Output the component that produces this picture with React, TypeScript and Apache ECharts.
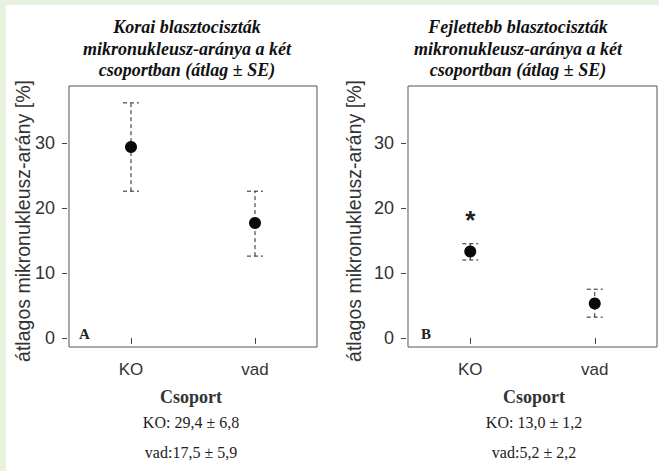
import React, { useEffect, useRef } from "react";
import * as echarts from "echarts";

const categories = ["KO", "vad"];
const meanA = [29.4, 17.7];
const lowA = [22.6, 12.6];
const highA = [36.2, 22.6];
const meanB = [13.3, 5.3];
const lowB = [12.0, 3.2];
const highB = [14.5, 7.5];
const starB = [[0, 18.8]];
const yTicks = [0, 10, 20, 30];
const yMin = -1.4;
const yMax = 38.8;
const titleA = ["Korai blasztociszták", "mikronukleusz-aránya a két", "csoportban (átlag ± SE)"];
const titleB = ["Fejlettebb blasztociszták", "mikronukleusz-aránya a két", "csoportban (átlag ± SE)"];
const summaryA = ["KO: 29,4 ± 6,8", "vad:17,5 ± 5,9"];
const summaryB = ["KO: 13,0 ± 1,2", "vad:5,2 ± 2,2"];
const panelLetters = ["A", "B"];
const yTitle = "átlagos mikronukleusz-arány [%]";
const xTitle = "Csoport";

const SANS = "Liberation Sans";
const SERIF = "Liberation Serif";

function errorRender(params: any, api: any) {
  const x = api.value(0);
  const lo = api.coord([x, api.value(1)]);
  const hi = api.coord([x, api.value(2)]);
  const hw = 8;
  const style = { stroke: "#222", lineWidth: 1, lineDash: [4, 3], fill: "none" };
  return {
    type: "group",
    children: [
      { type: "line", shape: { x1: lo[0], y1: lo[1], x2: hi[0], y2: hi[1] }, style },
      { type: "line", shape: { x1: lo[0] - hw, y1: lo[1], x2: lo[0] + hw, y2: lo[1] }, style },
      { type: "line", shape: { x1: hi[0] - hw, y1: hi[1], x2: hi[0] + hw, y2: hi[1] }, style },
    ],
  };
}

function starRender(params: any, api: any) {
  const p = api.coord([api.value(0), api.value(1)]);
  return {
    type: "text",
    x: p[0],
    y: p[1] + 4,
    style: {
      text: "*",
      fontSize: 26,
      fontWeight: "bold",
      fontFamily: SANS,
      fill: "#222",
      align: "center",
      verticalAlign: "middle",
    },
  };
}

export default function App() {
  const ref = useRef<HTMLDivElement>(null);
  useEffect(() => {
    document.body.style.margin = "0";
    const chart = echarts.init(ref.current!, undefined, { renderer: "svg" });
    const grids = [
      { left: 69, top: 86, width: 248, height: 261 },
      { left: 408, top: 86, width: 249, height: 261 },
    ];
    const xAxes = grids.map((_, i) => ({
      type: "category",
      gridIndex: i,
      data: categories,
      boundaryGap: true,
      axisLine: { show: false },
      axisTick: { show: true, alignWithLabel: true, length: 6, lineStyle: { color: "#444" } },
      axisLabel: { fontSize: 17, fontFamily: SANS, color: "#333", margin: 14 },
      splitLine: { show: false },
    }));
    const yAxes = grids.map((_, i) => ({
      type: "value",
      gridIndex: i,
      min: yMin,
      max: yMax,
      offset: 2,
      axisLine: { show: false },
      axisTick: { show: true, length: 5, customValues: yTicks, lineStyle: { color: "#444" } },
      axisLabel: { fontSize: 18, fontFamily: SANS, color: "#333", margin: 12, customValues: yTicks },
      splitLine: { show: false },
    }));
    const green = "#e6f1de";
    const textEls: any[] = [
      { type: "rect", shape: { x: 0, y: 0, width: 659, height: 5 }, style: { fill: green }, silent: true },
      { type: "rect", shape: { x: 0, y: 0, width: 6, height: 471 }, style: { fill: green }, silent: true },
    ];
    const titleCenters = [187, 518];
    const boxCenters = [191, 534];
    const yTitleX = [23, 354];
    const letterX = [79, 421];
    [titleA, titleB].forEach((lines, p) => {
      lines.forEach((t, k) => {
        textEls.push({
          type: "text",
          x: titleCenters[p],
          y: 27 + k * 21.5,
          style: { text: t, fontSize: 18, fontStyle: "italic", fontWeight: "bold", fontFamily: SERIF, fill: "#111", align: "center", verticalAlign: "middle" },
        });
      });
      textEls.push({
        type: "text",
        x: boxCenters[p],
        y: 397,
        style: { text: xTitle, fontSize: 18, fontWeight: "bold", fontFamily: SERIF, fill: "#333", align: "center", verticalAlign: "middle" },
      });
      const summ = p === 0 ? summaryA : summaryB;
      summ.forEach((t, k) => {
        textEls.push({
          type: "text",
          x: boxCenters[p],
          y: 422 + k * 30,
          style: { text: t, fontSize: 16, fontFamily: SERIF, fill: "#222", align: "center", verticalAlign: "middle" },
        });
      });
      textEls.push({
        type: "text",
        x: yTitleX[p],
        y: 221,
        rotation: Math.PI / 2,
        style: { text: yTitle, fontSize: 19.5, fontFamily: SANS, fill: "#333", align: "center", verticalAlign: "middle" },
      });
      textEls.push({
        type: "text",
        x: letterX[p],
        y: 334,
        style: { text: panelLetters[p], fontSize: 15, fontWeight: "bold", fontFamily: SERIF, fill: "#222", align: "left", verticalAlign: "middle" },
      });
    });
    const mk = (i: number, mean: number[], low: number[], high: number[]) => [
      {
        type: "custom",
        xAxisIndex: i,
        yAxisIndex: i,
        renderItem: errorRender,
        data: categories.map((_, k) => [k, low[k], high[k]]),
        z: 2,
      },
      {
        type: "scatter",
        xAxisIndex: i,
        yAxisIndex: i,
        symbol: "circle",
        symbolSize: 12,
        itemStyle: { color: "#0a0a0a", opacity: 1 },
        data: categories.map((_, k) => [k, mean[k]]),
        z: 3,
      },
    ];
    chart.setOption({
      animation: false,
      backgroundColor: "#ffffff",
      grid: grids.map((g) => ({ ...g, show: true, borderColor: "#555", borderWidth: 1, backgroundColor: "transparent" })),
      xAxis: xAxes,
      yAxis: yAxes,
      graphic: textEls,
      series: [
        ...mk(0, meanA, lowA, highA),
        ...mk(1, meanB, lowB, highB),
        { type: "custom", xAxisIndex: 1, yAxisIndex: 1, renderItem: starRender, data: starB, z: 3 },
      ],
    });
    return () => chart.dispose();
  }, []);
  return <div ref={ref} style={{ width: 659, height: 471 }} />;
}
